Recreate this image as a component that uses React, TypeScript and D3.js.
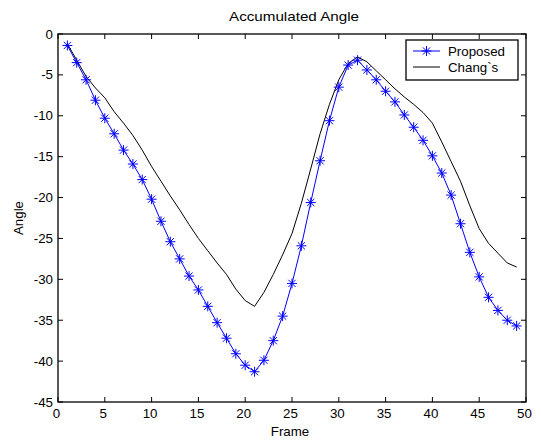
import React from "react";
import * as d3 from "d3";

const frames = [1,2,3,4,5,6,7,8,9,10,11,12,13,14,15,16,17,18,19,20,21,22,23,24,25,26,27,28,29,30,31,32,33,34,35,36,37,38,39,40,41,42,43,44,45,46,47,48,49];
const proposed = [-1.4,-3.5,-5.6,-8.1,-10.3,-12.2,-14.2,-15.9,-17.8,-20.2,-22.9,-25.4,-27.5,-29.6,-31.3,-33.3,-35.3,-37.2,-39.1,-40.5,-41.3,-39.9,-37.5,-34.5,-30.5,-25.9,-20.6,-15.5,-10.6,-6.5,-3.8,-3.2,-4.4,-5.6,-7.0,-8.3,-9.9,-11.4,-13.0,-14.9,-17.0,-19.7,-23.2,-26.7,-29.7,-32.2,-33.8,-35.0,-35.7];
const changs = [-1.2,-3.2,-5.2,-6.6,-7.8,-9.5,-10.9,-12.4,-14.2,-16.2,-18.0,-19.8,-21.5,-23.3,-25.0,-26.5,-28.0,-29.4,-31.2,-32.6,-33.3,-31.6,-29.4,-27.0,-24.4,-20.7,-16.5,-12.2,-8.6,-5.6,-3.6,-2.8,-3.4,-4.5,-5.6,-6.7,-7.7,-8.6,-9.6,-10.9,-13.2,-15.6,-18.0,-21.0,-23.8,-25.6,-26.8,-28.0,-28.5];
const xTicks = [0,5,10,15,20,25,30,35,40,45,50];
const yTicks = [0,-5,-10,-15,-20,-25,-30,-35,-40,-45];
const seriesNames = ["Proposed", "Chang`s"];

const W = 541, H = 442;
const L = 58, R = 526, T = 34, B = 402;
const FONT = "'Liberation Sans', Arial, sans-serif";

function Star({ x, y, r = 5 }: { x: number; y: number; r?: number }) {
  const d = r * 0.72;
  return (
    <g stroke="#0000ff" strokeWidth={1}>
      <line x1={x - r} y1={y} x2={x + r} y2={y} />
      <line x1={x} y1={y - r} x2={x} y2={y + r} />
      <line x1={x - d} y1={y - d} x2={x + d} y2={y + d} />
      <line x1={x - d} y1={y + d} x2={x + d} y2={y - d} />
    </g>
  );
}

export default function App() {
  const x = d3.scaleLinear().domain([0, 50]).range([L, R]);
  const y = d3.scaleLinear().domain([-45, 0]).range([B, T]);
  const line = d3.line<number>().x((_, i) => x(frames[i])).y((v) => y(v));
  const tk = 5;
  return (
    <svg width={W} height={H} style={{ position: "absolute", left: 0, top: 0, background: "#fff" }} fontFamily={FONT}>
      <rect x={0} y={0} width={W} height={H} fill="#fff" />
      <text x={(L + R) / 2 + 2} y={21} textAnchor="middle" fontSize={13.5} textLength={130} lengthAdjust="spacingAndGlyphs">Accumulated Angle</text>
      {xTicks.map((t) => (
        <g key={"x" + t}>
          <line x1={x(t)} x2={x(t)} y1={B} y2={B - tk} stroke="#000" />
          <line x1={x(t)} x2={x(t)} y1={T} y2={T + tk} stroke="#000" />
          <text x={x(t) - 1.5} y={418} textAnchor="middle" fontSize={13.3}>{t}</text>
        </g>
      ))}
      {yTicks.map((t) => (
        <g key={"y" + t}>
          <line x1={L} x2={L + tk} y1={y(t)} y2={y(t)} stroke="#000" />
          <line x1={R} x2={R - tk} y1={y(t)} y2={y(t)} stroke="#000" />
          <text x={53} y={y(t) + 4.5} textAnchor="end" fontSize={13.3}>{t}</text>
        </g>
      ))}
      <text x={290} y={436} textAnchor="middle" fontSize={13.3}>Frame</text>
      <text transform={`translate(23,${(T + B) / 2}) rotate(-90)`} textAnchor="middle" fontSize={13.3}>Angle</text>
      <path d={line(changs) || ""} fill="none" stroke="#000" strokeWidth={1} />
      <path d={line(proposed) || ""} fill="none" stroke="#0000ff" strokeWidth={1} />
      {proposed.map((v, i) => (
        <Star key={i} x={x(frames[i])} y={y(v)} />
      ))}
      <rect x={L} y={T} width={R - L} height={B - T} fill="none" stroke="#000" strokeWidth={1.3} />
      <rect x={406} y={40} width={112} height={40} fill="#fff" stroke="#000" strokeWidth={1.3} />
      <line x1={413} x2={440} y1={51} y2={51} stroke="#0000ff" />
      <Star x={426.5} y={51} />
      <text x={448} y={55.5} fontSize={13.3}>{seriesNames[0]}</text>
      <line x1={413} x2={440} y1={67} y2={67} stroke="#000" />
      <text x={448} y={71.5} fontSize={13.3}>{seriesNames[1]}</text>
    </svg>
  );
}
